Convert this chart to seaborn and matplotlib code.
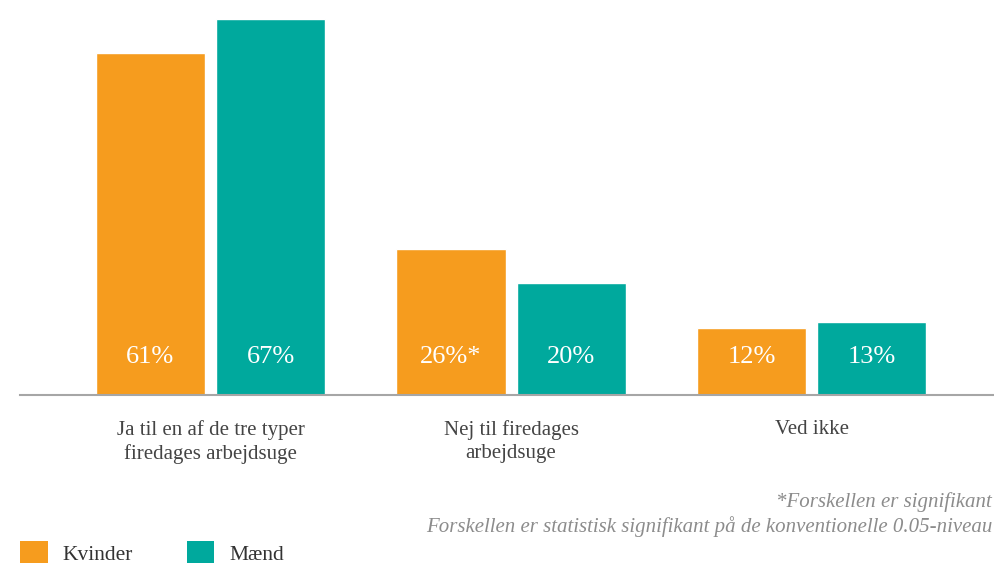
import matplotlib
matplotlib.use("Agg")
import matplotlib.pyplot as plt
import seaborn as sns
import pandas as pd
from matplotlib.patches import Patch

categories = ["Ja til en af de tre typer\nfiredages arbejdsuge", "Nej til firedages\narbejdsuge", "Ved ikke"]
groups = ["Kvinder", "Mænd"]
kvinder = [61, 26, 12]
maend = [67, 20, 13]
kvinder_labels = ["61%", "26%*", "12%"]
maend_labels = ["67%", "20%", "13%"]
colors = ["#F69C1E", "#00A99D"]
footnote1 = "*Forskellen er signifikant"
footnote2 = "Forskellen er statistisk signifikant på de konventionelle 0.05-niveau"

df = pd.DataFrame({
    "cat": categories * 2,
    "group": [groups[0]] * 3 + [groups[1]] * 3,
    "value": kvinder + maend,
})

sns.set_theme(style="white")
plt.rcParams["font.family"] = ["Liberation Serif", "DejaVu Serif"]

W, H = 995, 563
fig = plt.figure(figsize=(W / 100, H / 100), dpi=100)
ax = fig.add_axes([20 / W, (H - 395) / H, 1 - 20 / W, 395 / H])

sns.barplot(data=df, x="cat", y="value", hue="group", palette=colors,
            width=0.8, gap=0.09, saturation=1, legend=False, ax=ax)

ax.set_xlim(-0.634, 2.61)
ax.set_ylim(0, 70.4)
ax.set_xlabel("")
ax.set_ylabel("")
ax.set_yticks([])
for s in ["top", "right", "left"]:
    ax.spines[s].set_visible(False)
ax.spines["bottom"].set_color("#a6a6a6")
ax.spines["bottom"].set_linewidth(1.5)
ax.tick_params(axis="x", length=0, pad=18, labelsize=15, labelcolor="#444444")
for t in ax.get_xticklabels():
    t.set_linespacing(1.3)

for cont, labs in zip(ax.containers, [kvinder_labels, maend_labels]):
    for p, lab in zip(cont.patches, labs):
        ax.text(p.get_x() + p.get_width() / 2, 6.8, lab, ha="center", va="center",
                color="white", fontsize=19)

fig.text(992 / W, 1 - 502 / H, footnote1, ha="right", va="center", style="italic",
         color="#8c8c8c", fontsize=15)
fig.text(992 / W, 1 - 527 / H, footnote2, ha="right", va="center", style="italic",
         color="#8c8c8c", fontsize=15)

handles = [Patch(facecolor=c, edgecolor="none") for c in colors]
fig.legend(handles, groups, loc="center left", bbox_to_anchor=(1 / W, 1 - 553 / H),
           ncol=2, frameon=False, fontsize=15.5, handlelength=1.26, handleheight=1.2,
           handletextpad=0.7, columnspacing=2.5, labelcolor="#333333")

fig.savefig("out.png", dpi=100)
